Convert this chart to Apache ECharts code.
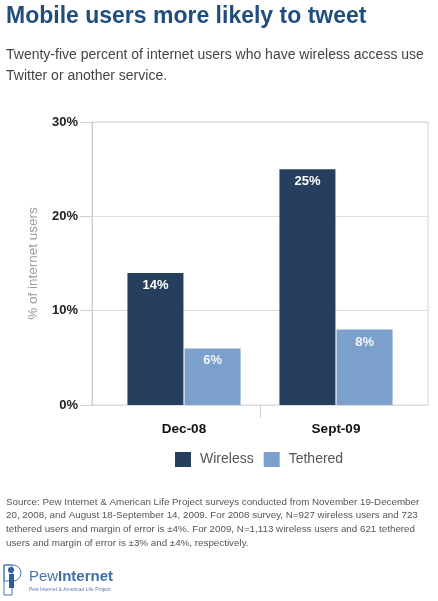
<!DOCTYPE html>
<html>
<head>
<meta charset="utf-8">
<script src="https://cdn.jsdelivr.net/npm/echarts@6/dist/echarts.min.js"></script>
<style>
  html, body { margin: 0; padding: 0; background: #fff; }
  #chart { width: 438px; height: 601px; }
</style>
</head>
<body>
<div id="chart"></div>
<script>
// data
var categories = ['Dec-08', 'Sept-09'];
var wireless = [14, 25];
var tethered = [6, 8];
var seriesNames = ['Wireless', 'Tethered'];
var yMax = 30;
var yStep = 10;

var titleText = 'Mobile users more likely to tweet';
var subText = 'Twenty-five percent of internet users who have wireless access use\nTwitter or another service.';
var sourceText = 'Source: Pew Internet & American Life Project surveys conducted from November 19-December\n' +
  '20, 2008, and August 18-September 14, 2009. For 2008 survey, N=927 wireless users and 723\n' +
  'tethered users and margin of error is \u00b14%. For 2009, N=1,113 wireless users and 621 tethered\n' +
  'users and margin of error is \u00b13% and \u00b14%, respectively.';

var myChart = echarts.init(document.getElementById('chart'));
var font = '"Liberation Sans", Arial, sans-serif';

var option = {
  backgroundColor: '#fff',
  animation: false,
  textStyle: { fontFamily: font },
  grid: [
    // frame with gridlines
    { left: 92, right: 10, top: 122, bottom: 196, show: true, borderColor: '#d4d4d4', borderWidth: 1 },
    // bars
    { left: 108, right: 26, top: 122, bottom: 196 }
  ],
  xAxis: [
    {
      gridIndex: 0, type: 'value', min: 0, max: 2,
      axisLine: { show: false },
      axisLabel: { show: false },
      splitLine: { show: false },
      axisTick: { show: true, customValues: [1], length: 13, lineStyle: { color: '#cfcfcf' } }
    },
    {
      gridIndex: 1, type: 'category', data: categories,
      axisLine: { show: false },
      axisTick: { show: false },
      axisLabel: { color: '#111', fontSize: 13.5, fontWeight: 'bold', margin: 17, fontFamily: font }
    }
  ],
  yAxis: [
    {
      gridIndex: 0, type: 'value', min: 0, max: yMax, interval: yStep,
      name: '% of internet users', nameLocation: 'middle', nameGap: 52,
      nameTextStyle: { color: '#9a9a9a', fontSize: 13.5, fontFamily: font },
      axisLine: { show: true, lineStyle: { color: '#cfcfcf' } },
      axisTick: { show: true, length: 12, lineStyle: { color: '#cfcfcf' } },
      axisLabel: { formatter: '{value}%', color: '#222', fontSize: 13, fontWeight: 'bold', margin: 14, fontFamily: font },
      splitLine: { lineStyle: { color: '#dedede' } }
    },
    {
      gridIndex: 1, type: 'value', min: 0, max: yMax, show: false,
      splitLine: { show: false }
    }
  ],
  legend: {
    data: seriesNames,
    left: 170, top: 447,
    itemWidth: 16, itemHeight: 15, itemGap: 10,
    icon: 'rect',
    textStyle: { color: '#555', fontSize: 14, fontFamily: font, padding: [0, 0, 0, 4] }
  },
  series: [
    {
      name: seriesNames[0], type: 'bar', xAxisIndex: 1, yAxisIndex: 1,
      data: wireless, barWidth: 56, barGap: '2%',
      itemStyle: { color: '#263f5f' },
      label: { show: true, position: 'insideTop', distance: 6, formatter: '{c}%', color: '#fff', fontSize: 13, fontWeight: 'bold', fontFamily: font }
    },
    {
      name: seriesNames[1], type: 'bar', xAxisIndex: 1, yAxisIndex: 1,
      data: tethered, barWidth: 56,
      itemStyle: { color: '#7ba0cb' },
      label: { show: true, position: 'insideTop', distance: 6, formatter: '{c}%', color: '#f2f5fa', fontSize: 13, fontWeight: 'bold', fontFamily: font }
    }
  ],
  graphic: [
    { type: 'text', left: 6, top: 5, style: { text: titleText, fill: '#1f4e7e', font: 'bold 23px ' + font } },
    { type: 'text', left: 6, top: 45, style: { text: subText, fill: '#444', font: '14px ' + font, lineHeight: 21 } },
    { type: 'text', left: 6, top: 495, style: { text: sourceText, fill: '#555', font: '9.8px ' + font, lineHeight: 13.8 } },
    // logo
    { type: 'rect', shape: { x: 4, y: 565, width: 8, height: 30 }, style: { fill: 'none', stroke: '#4a78ad', lineWidth: 1 } },
    { type: 'rect', shape: { x: 4, y: 565, width: 17, height: 16, r: [0, 8, 8, 0] }, style: { fill: 'none', stroke: '#4a78ad', lineWidth: 1 } },
    { type: 'circle', shape: { cx: 11, cy: 570, r: 3 }, style: { fill: '#2f5f99' } },
    { type: 'rect', shape: { x: 9, y: 574, width: 5, height: 14 }, style: { fill: '#2f5f99' } },
    { type: 'text', left: 29, top: 569, style: { text: 'Pew', fill: '#4a78ad', font: '15px ' + font } },
    { type: 'text', left: 58, top: 569, style: { text: 'Internet', fill: '#3f6fa6', font: 'bold 15px ' + font } },
    { type: 'text', left: 29, top: 587, style: { text: 'Pew Internet & American Life Project', fill: '#5a7fab', font: '5px ' + font } }
  ]
};

myChart.setOption(option);
window.addEventListener('resize', function () {
  myChart.resize();
});
</script>
</body>
</html>
